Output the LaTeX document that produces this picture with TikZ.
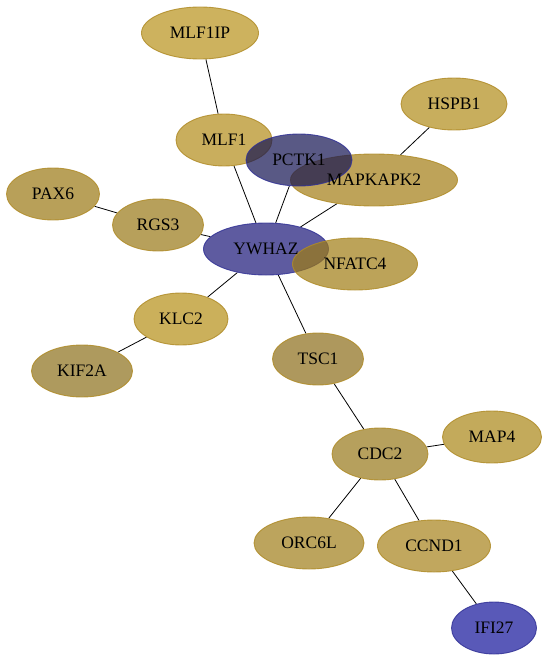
\documentclass[tikz,border=0pt]{standalone}
\usepackage{fontspec}
\setmainfont{Liberation Serif}
\usepackage{xcolor}
\usetikzlibrary{shapes.geometric}
\usetikzlibrary{backgrounds}

% node fills (seen through opacity 0.7)
\definecolor{cMLFIP}{RGB}{184,146,25}
\definecolor{cMLF}{RGB}{178,139,24}
\definecolor{cHSPB}{RGB}{176,139,24}
\definecolor{cMAPKAPK}{RGB}{162,124,19}
\definecolor{cPAX}{RGB}{154,119,19}
\definecolor{cRGS}{RGB}{152,119,22}
\definecolor{cNFATC}{RGB}{159,124,19}
\definecolor{cKLC}{RGB}{181,142,22}
\definecolor{cKIF}{RGB}{139,111,25}
\definecolor{cTSC}{RGB}{139,108,24}
\definecolor{cCDC}{RGB}{151,119,24}
\definecolor{cMAPF}{RGB}{169,134,22}
\definecolor{cORC}{RGB}{159,125,24}
\definecolor{cCCND}{RGB}{166,129,25}
\definecolor{cPCTK}{RGB}{19,19,81}
\definecolor{cYWHAZ}{RGB}{25,22,119}
\definecolor{cIFI}{RGB}{19,19,154}
\definecolor{goldline}{RGB}{176,140,40}
\definecolor{blueline}{RGB}{50,50,150}

\tikzset{
    gene/.style={ellipse, inner sep=0pt, minimum height=52pt, line width=0.9pt,
        fill opacity=0.7, draw opacity=0.85},
    gold/.style={gene, fill=#1, draw=goldline},
    blue/.style={gene, fill=#1, draw=blueline},
    genetext/.style={inner sep=0pt, font=\fontsize{17.5}{19}\selectfont},
    link/.style={line width=0.8pt, black}
}

\begin{document}
\begin{tikzpicture}[x=1pt, y=-1pt]
            \useasboundingbox (0, 0) rectangle (548, 661);

            \node[gold=cMLFIP, minimum width=117pt] (mlfip) at (200, 33) {};
            \node[gold=cHSPB, minimum width=106pt] (hspb) at (454, 104) {};
            \node[gold=cMLF, minimum width=96pt] (mlf) at (224, 140) {};
            \node[gold=cMAPKAPK, minimum width=167pt] (mapkapk) at (374, 180) {};
            \node[blue=cPCTK, minimum width=106pt] (pctk) at (299, 160) {};
            \node[gold=cPAX, minimum width=93pt] (pax) at (53, 194) {};
            \node[gold=cRGS, minimum width=91pt] (rgs) at (158, 225) {};
            \node[blue=cYWHAZ, minimum width=125pt] (ywhaz) at (266, 249) {};
            \node[gold=cNFATC, minimum width=125pt] (nfatc) at (355, 264) {};
            \node[gold=cKLC, minimum width=94pt] (klc) at (181, 319) {};
            \node[gold=cKIF, minimum width=101pt] (kif) at (82, 371) {};
            \node[gold=cTSC, minimum width=91pt] (tsc) at (318, 359) {};
            \node[gold=cCDC, minimum width=96pt] (cdc) at (380, 454) {};
            \node[gold=cMAPF, minimum width=99pt] (mapf) at (492, 437) {};
            \node[gold=cORC, minimum width=110pt] (orc) at (309, 543) {};
            \node[gold=cCCND, minimum width=113pt] (ccnd) at (434, 546) {};
            \node[blue=cIFI, minimum width=85pt] (ifi) at (494, 628) {};

            % names on top of every fill
            \foreach \n/\t in {mlfip/MLF1IP, hspb/HSPB1, mlf/MLF1, mapkapk/MAPKAPK2,
                    pctk/PCTK1, pax/PAX6, rgs/RGS3, ywhaz/YWHAZ, nfatc/NFATC4,
                    klc/KLC2, kif/KIF2A, tsc/TSC1, cdc/CDC2, mapf/MAP4,
                    orc/ORC6L, ccnd/CCND1, ifi/IFI27}
                \node[genetext] (\n-t) at (\n) {\t};

            % edges behind the nodes
            \begin{pgfonlayer}{background}
                \draw[link] (mlfip)--(mlf);
                \draw[link] (mlf)--(ywhaz);
                \draw[link] (pctk)--(ywhaz);
                \draw[link] (mapkapk)--(ywhaz);
                \draw[link] (hspb)--(mapkapk);
                \draw[link] (pax)--(rgs);
                \draw[link] (rgs)--(ywhaz);
                \draw[link] (ywhaz)--(klc);
                \draw[link] (klc)--(kif);
                \draw[link] (ywhaz)--(tsc);
                \draw[link] (tsc)--(cdc);
                \draw[link] (cdc)--(mapf);
                \draw[link] (cdc)--(orc);
                \draw[link] (cdc)--(ccnd);
                \draw[link] (ccnd)--(ifi);
            \end{pgfonlayer}

        \end{tikzpicture}
\end{document}
